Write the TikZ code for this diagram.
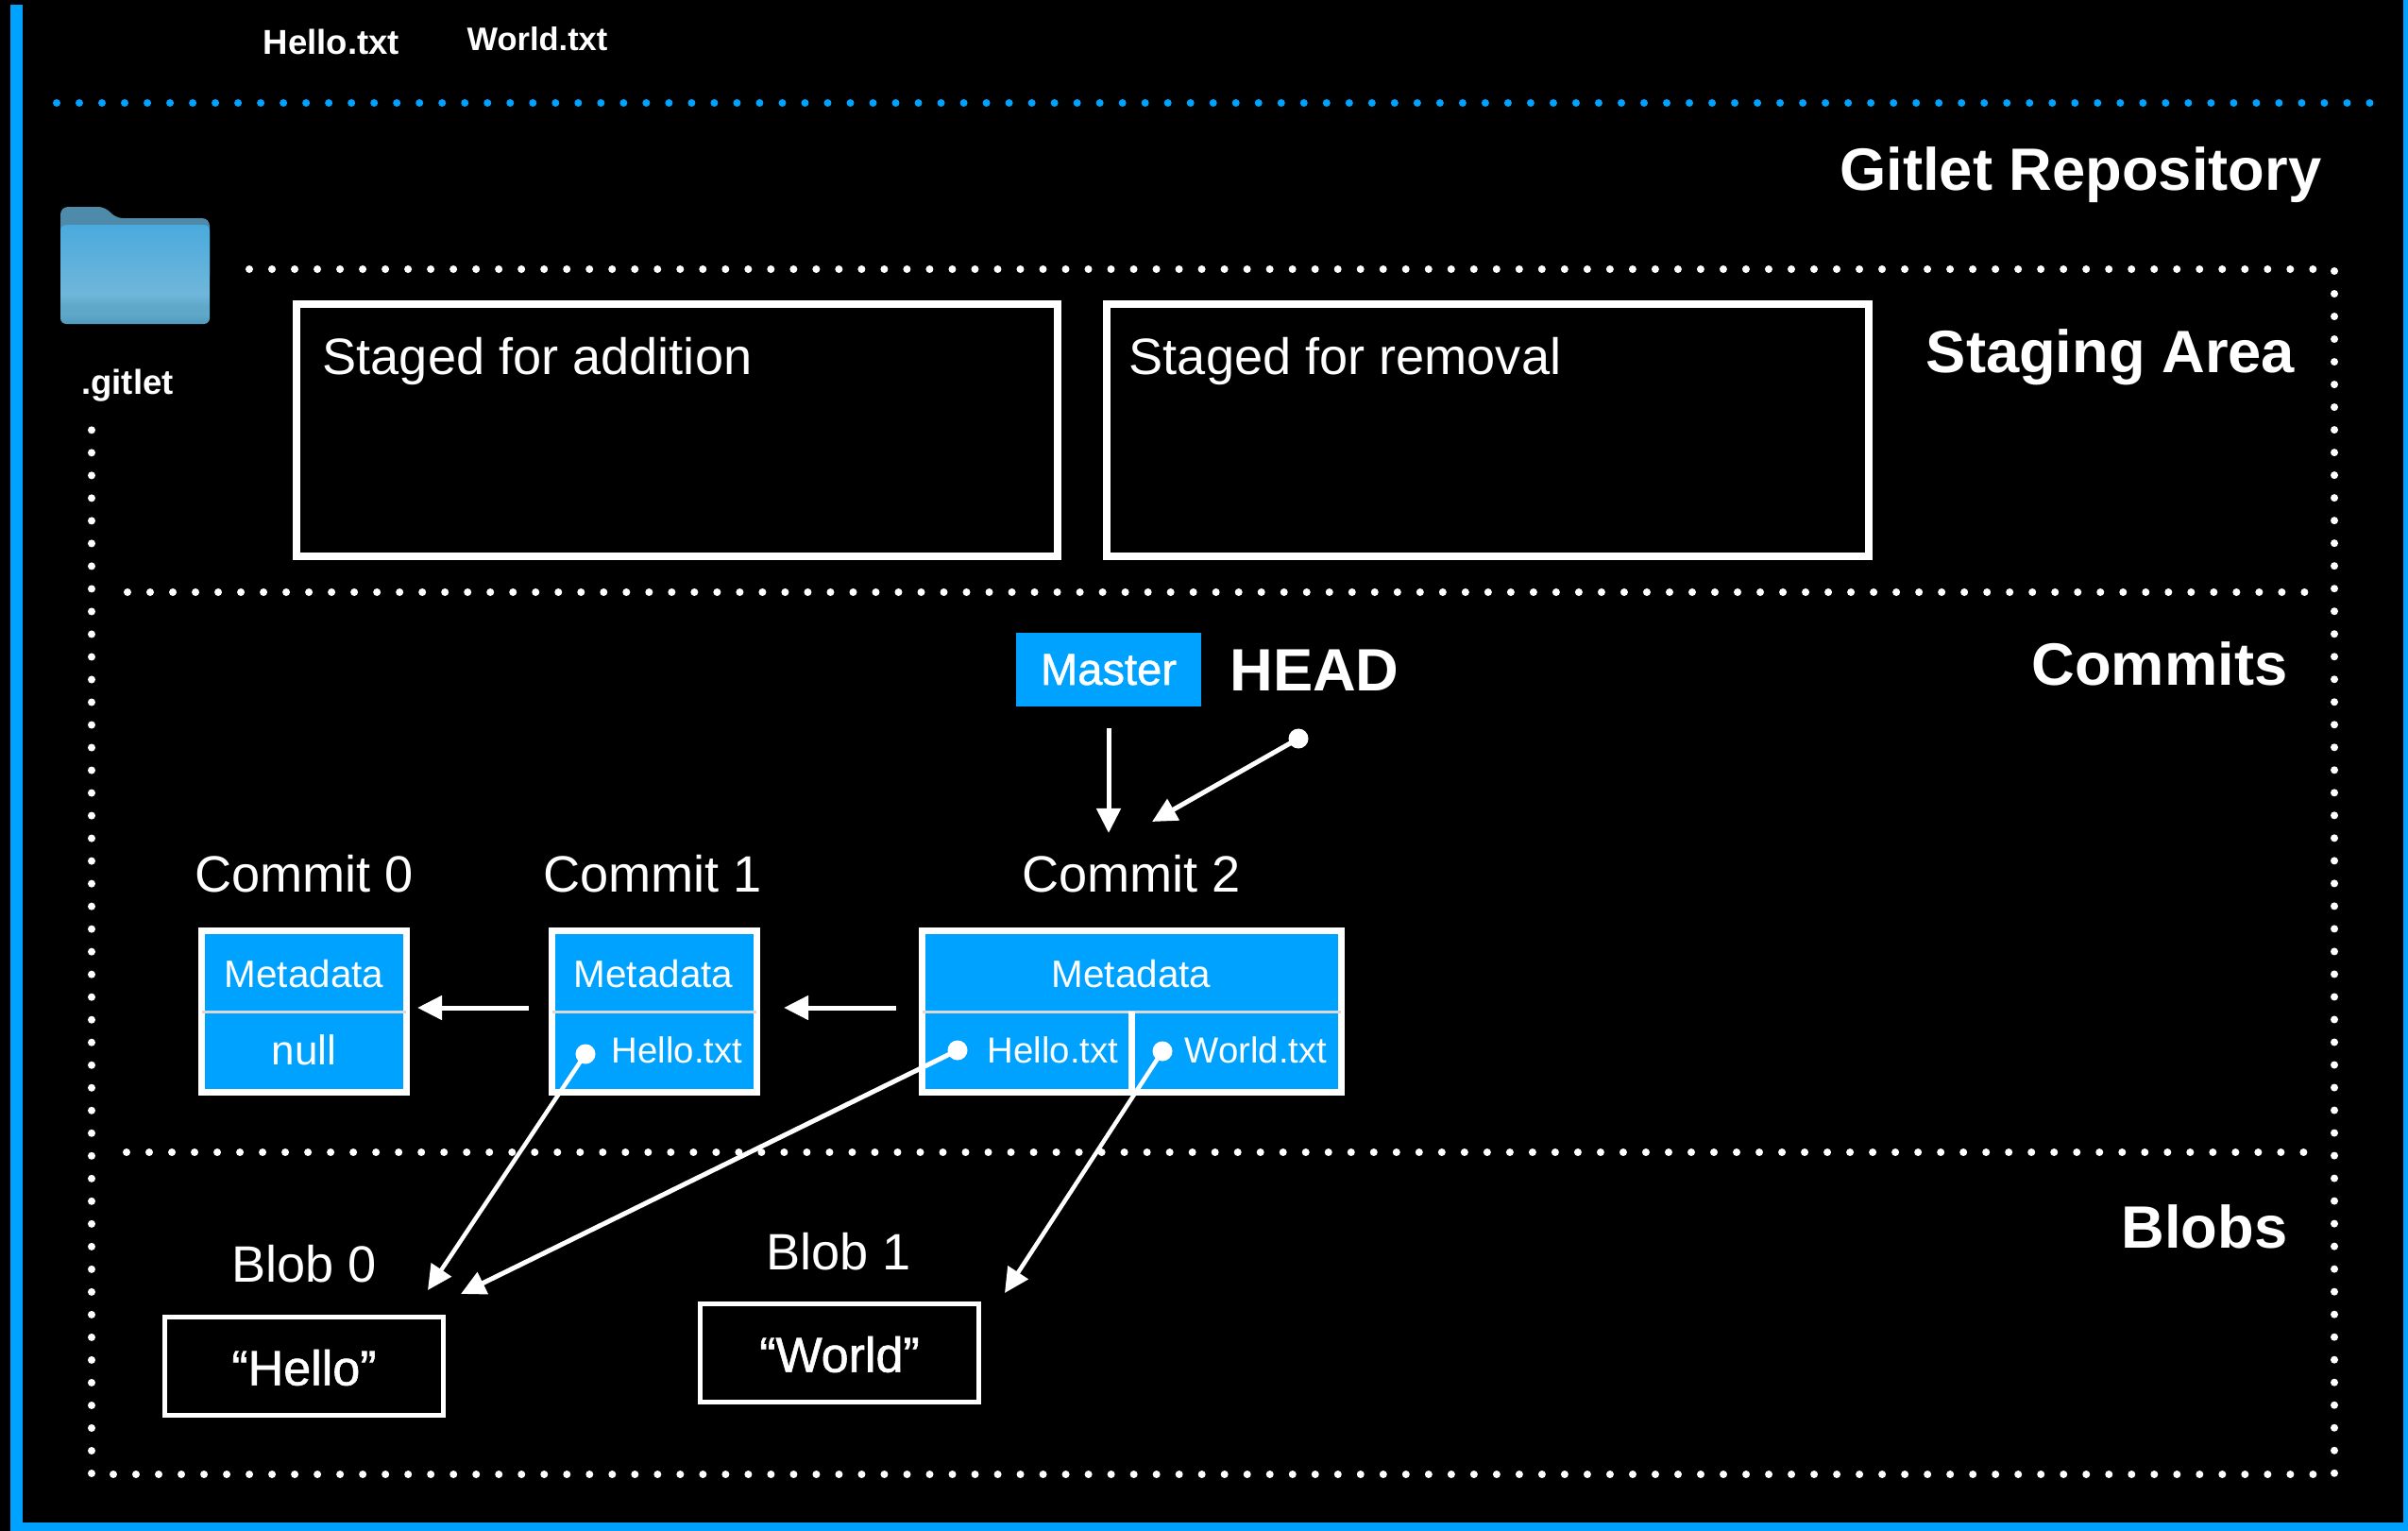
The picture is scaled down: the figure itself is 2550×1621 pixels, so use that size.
\documentclass[tikz,border=0pt]{standalone}
\usepackage{fontspec}
\usepackage{xcolor}
\setmainfont{Liberation Sans}
\newfontfamily\medfont[FakeBold=1.2]{Liberation Sans}
\usetikzlibrary{arrows.meta,positioning}
\definecolor{gitblue}{HTML}{00A2FF}
\definecolor{foldertab}{HTML}{4E8AAA}
\definecolor{foldertop}{HTML}{4BAADD}
\definecolor{foldermid}{HTML}{6FB6DA}
\definecolor{folderlow}{HTML}{5FA8CA}
\definecolor{folderend}{HTML}{4F9ABD}
\pgfdeclareverticalshading{folderfront}{100bp}{color(0bp)=(folderend); color(25bp)=(folderend); color(30bp)=(folderlow); color(34bp)=(folderlow); color(40bp)=(foldermid); color(75bp)=(foldertop); color(100bp)=(foldertop)}
\tikzset{
	heading/.style={font=\fontsize{18}{20}\selectfont\bfseries,text=white,inner sep=0pt},
	title/.style={font=\fontsize{15.4}{18}\selectfont,text=white,inner sep=0pt},
	small/.style={font=\fontsize{11.5}{14}\selectfont,text=white,inner sep=0pt},
	cell/.style={font=\fontsize{10.9}{13}\selectfont,text=white,inner sep=0pt},
	filename/.style={font=\fontsize{10.4}{13}\selectfont\bfseries,text=white,inner sep=0pt},
	quoted/.style={font=\fontsize{14.8}{17}\selectfont\medfont,text=white,inner sep=0pt},
	stagebox/.style={draw=white,line width=.08cm,minimum width=8.06cm,minimum height=2.67cm,inner sep=0pt,outer sep=0pt},
	blobbox/.style={draw=white,line width=.05cm,minimum width=2.95cm,minimum height=1.04cm,inner sep=0pt,outer sep=0pt},
	commitbox/.style={draw=white,fill=gitblue,line width=.07cm,minimum height=1.7cm,inner sep=0pt,outer sep=0pt},
	divider/.style={draw=white!85!black,line width=.03cm},
	pin/.style={circle,fill=white,minimum size=.21cm,inner sep=0pt,outer sep=0pt},
	link/.style={draw=white,line width=.05cm,-{Triangle[length=.26cm,width=.25cm]}},
	dots/.style={line width=.08cm,line cap=round,dash pattern=on 0pt off .24cm},
}
\begin{document}
\begin{tikzpicture}[x=.01cm,y=-.01cm]
	\fill[black] (0,0) rectangle (2550,1621);
	\useasboundingbox (0,0) rectangle (2550,1621);
	% frame
	\fill[gitblue] (11,5) rectangle (24,1621);
	\fill[gitblue] (11,1612) rectangle (2550,1621);
	\fill[gitblue] (2545,0) rectangle (2550,1621);
	\draw[gitblue,dots] (60,109) -- (2514,109);

	% areas
	\draw[white,dots] (264,285) -- (2453,285);
	\draw[white,dots] (2472,287) -- (2472,1562);
	\draw[white,dots] (120,1561) -- (2453,1561);
	\draw[white,dots] (97,1560) -- (97,455);
	\draw[white,dots] (135,627) -- (2444,627);
	\draw[white,dots] (134,1220) -- (2444,1220);

	% folder
	\fill[foldertab,rounded corners=.08cm] (64,300) -- (64,219) -- (112,219) -- (122,231) -- (222,231) -- (222,300) -- cycle;
	\shade[rounded corners=.06cm,shading=folderfront] (64,238) rectangle (222,343);

	\node[filename] (hellofile) at (351,44) {Hello.txt};
	\node[filename,font=\fontsize{9.8}{13}\selectfont\bfseries] (worldfile) at (569,41) {World.txt};
	\node[filename] (gitletdir) at (135,408) {.gitlet};
	\node[heading,anchor=east] (repolabel) at (2459,185) {Gitlet Repository};
	\node[heading] (stagelabel) at (2235,378) {Staging Area};
	\node[heading,anchor=east] (commitslabel) at (2423,703) {Commits};
	\node[heading,anchor=east] (blobslabel) at (2423,1299) {Blobs};

	% staging
	\node[stagebox] (addbox) at (717,455.5) {};
	\node[stagebox] (rmbox) at (1575.5,455.5) {};
	\node[title,anchor=west] (addlabel) at (341,382) {Staged for addition};
	\node[title,anchor=west] (rmlabel) at (1195,382) {Staged for removal};

	% refs
	\node[fill=gitblue,minimum width=1.96cm,minimum height=.78cm,inner sep=0pt,outer sep=0pt,font=\fontsize{13.4}{15}\selectfont\medfont,text=white] (master) at (1174,709) {Master};
	\node[heading] (head) at (1392,710) {HEAD};
	\node[pin] (headpin) at (1375,782) {};
	\coordinate (mastertip) at (1174,882);
	\coordinate (headtip) at (1220,870);
	\draw[link,shorten <=.23cm] (master.south) -- (mastertip);
	\draw[link] (headpin.center) -- (headtip);

	% commits
	\node[title] (czerolabel) at (322,925) {Commit 0};
	\node[title] (conelabel) at (691,925) {Commit 1};
	\node[title] (ctwolabel) at (1198,925) {Commit 2};
	\node[commitbox,minimum width=2.16cm] (czero) at (322,1071) {};
	\node[commitbox,minimum width=2.16cm] (cone) at (693,1071) {};
	\node[commitbox,minimum width=4.43cm] (ctwo) at (1198.5,1071) {};
	\draw[divider] (czero.west) -- (czero.east);
	\draw[divider] (cone.west) -- (cone.east);
	\draw[divider] (ctwo.west) -- (ctwo.east);
	\draw[draw=white,line width=.07cm] (ctwo.center) -- (ctwo.south);
	\node[small] (metazero) at (322,1031) {Metadata};
	\node[small] (metaone) at (692,1031) {Metadata};
	\node[small] (metatwo) at (1198,1031) {Metadata};
	\node[small,font=\fontsize{12.5}{15}\selectfont] (nullzero) at (322,1112) {null};
	\node[cell] (helloone) at (717,1112) {Hello.txt};
	\node[cell] (hellotwo) at (1115,1112) {Hello.txt};
	\node[cell] (worldtwo) at (1330,1112) {World.txt};
	\draw[link,shorten <=.25cm,shorten >=.12cm] ([yshift=.04cm]cone.west) -- ([yshift=.04cm]czero.east);
	\draw[link,shorten <=.28cm,shorten >=.29cm] ([yshift=.04cm]ctwo.west) -- ([yshift=.04cm]cone.east);

	% blobs
	\node[title] (bzerolabel) at (322,1338) {Blob 0};
	\node[title] (bonelabel) at (888,1325) {Blob 1};
	\node[blobbox] (bzero) at (322,1446.5) {};
	\node[blobbox] (bone) at (889,1432.5) {};
	\node[quoted] (hellotext) at (322,1448) {“Hello”};
	\node[quoted] (worldtext) at (889,1434) {“World”};

	\node[pin] (pinone) at (620,1116) {};
	\node[pin] (pintwo) at (1014,1112) {};
	\node[pin] (pinthree) at (1231,1113) {};
	\coordinate (tipone) at (453,1366);
	\coordinate (tiptwo) at (488,1370);
	\coordinate (tipthree) at (1064,1369);
	\draw[link,line width=.045cm] (pinone.center) -- (tipone);
	\draw[link] (pintwo.center) -- (tiptwo);
	\draw[link,line width=.045cm] (pinthree.center) -- (tipthree);
\end{tikzpicture}
\end{document}
